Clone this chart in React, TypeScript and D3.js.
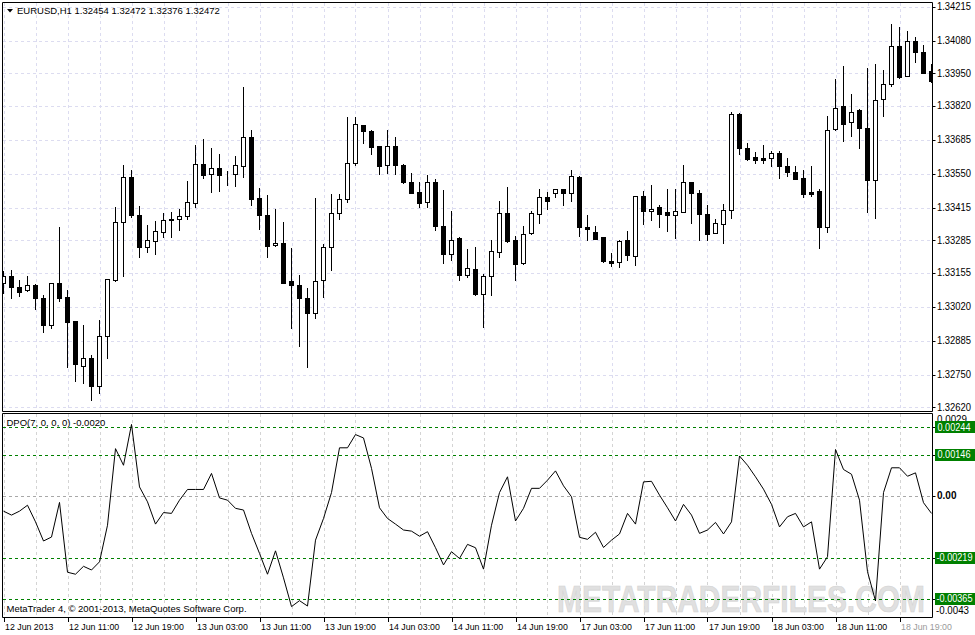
import React from 'react';
import * as d3 from 'd3';

// ---------- data ----------
const openP = [1.33115,1.33141,1.33099,1.33087,1.33107,1.33055,1.32946,1.33115,1.33059,1.32964,1.32783,1.32816,1.32703,1.32902,1.33128,1.33357,1.33536,1.33386,1.33260,1.33284,1.33316,1.33370,1.33369,1.33380,1.33433,1.33588,1.33548,1.33572,1.33550,1.33548,1.33581,1.33696,1.33453,1.33386,1.33266,1.33274,1.33124,1.33107,1.33055,1.32995,1.33128,1.33258,1.33393,1.33449,1.33592,1.33745,1.33721,1.33661,1.33583,1.33661,1.33585,1.33519,1.33477,1.33437,1.33516,1.33342,1.33230,1.33296,1.33148,1.33171,1.33072,1.33141,1.33240,1.33393,1.33287,1.33194,1.33313,1.33389,1.33457,1.33473,1.33489,1.33473,1.33536,1.33337,1.33317,1.33298,1.33203,1.33198,1.33287,1.33224,1.33462,1.33402,1.33417,1.33397,1.33384,1.33399,1.33516,1.33473,1.33389,1.33313,1.33349,1.33406,1.33788,1.33652,1.33618,1.33612,1.33612,1.33632,1.33581,1.33556,1.33532,1.33477,1.33482,1.33337,1.33727,1.33820,1.33754,1.33804,1.33734,1.33526,1.33847,1.33908,1.34059,1.33941,1.34079,1.34034,1.33959];
const highP = [1.33161,1.33167,1.33128,1.33144,1.33112,1.33068,1.33115,1.33337,1.33088,1.32964,1.32949,1.32829,1.32968,1.33130,1.33419,1.33585,1.33563,1.33422,1.33346,1.33362,1.33393,1.33397,1.33410,1.33522,1.33665,1.33689,1.33654,1.33629,1.33559,1.33621,1.33895,1.33725,1.33493,1.33466,1.33410,1.33357,1.33254,1.33148,1.33095,1.33453,1.33271,1.33469,1.33469,1.33775,1.33775,1.33745,1.33725,1.33661,1.33725,1.33698,1.33588,1.33552,1.33519,1.33545,1.33530,1.33486,1.33402,1.33300,1.33251,1.33260,1.33151,1.33287,1.33442,1.33496,1.33303,1.33342,1.33402,1.33490,1.33477,1.33489,1.33489,1.33563,1.33539,1.33384,1.33342,1.33298,1.33236,1.33287,1.33323,1.33462,1.33482,1.33506,1.33426,1.33489,1.33489,1.33583,1.33519,1.33486,1.33426,1.33370,1.33429,1.33797,1.33791,1.33672,1.33638,1.33665,1.33641,1.33641,1.33614,1.33579,1.33563,1.33579,1.33490,1.33780,1.33928,1.33979,1.33867,1.33807,1.33970,1.33987,1.33963,1.34147,1.34133,1.34119,1.34096,1.34063,1.33987];
const lowP = [1.33076,1.33057,1.33065,1.33085,1.33012,1.32919,1.32935,1.33045,1.32779,1.32726,1.32717,1.32650,1.32675,1.32818,1.33121,1.33144,1.33377,1.33218,1.33240,1.33230,1.33300,1.33300,1.33327,1.33369,1.33417,1.33534,1.33479,1.33483,1.33506,1.33503,1.33535,1.33426,1.33331,1.33220,1.33264,1.33115,1.32935,1.32866,1.32779,1.32975,1.33061,1.33167,1.33369,1.33439,1.33583,1.33674,1.33629,1.33550,1.33552,1.33550,1.33515,1.33475,1.33419,1.33417,1.33324,1.33196,1.33207,1.33128,1.33138,1.33068,1.32940,1.33068,1.33218,1.33280,1.33128,1.33190,1.33309,1.33353,1.33409,1.33459,1.33426,1.33443,1.33303,1.33287,1.33290,1.33200,1.33181,1.33177,1.33207,1.33185,1.33349,1.33364,1.33336,1.33320,1.33296,1.33397,1.33353,1.33287,1.33287,1.33313,1.33274,1.33373,1.33628,1.33605,1.33592,1.33592,1.33579,1.33532,1.33539,1.33530,1.33459,1.33463,1.33254,1.33316,1.33725,1.33681,1.33702,1.33654,1.33399,1.33373,1.33778,1.33900,1.33930,1.33941,1.33996,1.33950,1.33916];
const closeP = [1.33141,1.33099,1.33081,1.33107,1.33057,1.32946,1.33115,1.33057,1.32959,1.32792,1.32816,1.32703,1.32905,1.33130,1.33357,1.33536,1.33386,1.33260,1.33287,1.33320,1.33366,1.33364,1.33382,1.33437,1.33588,1.33543,1.33572,1.33543,1.33549,1.33585,1.33696,1.33450,1.33384,1.33264,1.33276,1.33115,1.33105,1.33055,1.32995,1.33122,1.33258,1.33393,1.33449,1.33592,1.33747,1.33722,1.33658,1.33579,1.33661,1.33585,1.33519,1.33475,1.33435,1.33516,1.33340,1.33230,1.33287,1.33148,1.33174,1.33072,1.33144,1.33243,1.33393,1.33283,1.33190,1.33309,1.33393,1.33457,1.33443,1.33489,1.33473,1.33542,1.33336,1.33331,1.33291,1.33203,1.33196,1.33283,1.33227,1.33462,1.33403,1.33410,1.33390,1.33384,1.33402,1.33516,1.33473,1.33389,1.33309,1.33353,1.33406,1.33788,1.33652,1.33608,1.33605,1.33606,1.33632,1.33579,1.33555,1.33530,1.33470,1.33470,1.33336,1.33725,1.33811,1.33749,1.33797,1.33734,1.33526,1.33844,1.33906,1.34059,1.33937,1.34079,1.34034,1.33953,1.33921];
const dpoValues = [-0.00054,-0.00068,-0.00054,-0.00033,-0.00092,-0.00160,-0.00146,-0.00023,-0.00271,-0.00278,-0.00250,-0.00263,-0.00234,-0.00104,0.00168,0.00109,0.00254,0.00032,-0.00021,-0.00100,-0.00059,-0.00062,-0.00015,0.00023,0.00023,0.00023,0.00080,-0.00007,-0.00015,-0.00044,-0.00050,-0.00133,-0.00204,-0.00278,-0.00195,-0.00291,-0.00393,-0.00372,-0.00391,-0.00157,-0.00080,0.00012,0.00171,0.00171,0.00218,0.00206,0.00098,-0.00042,-0.00080,-0.00100,-0.00121,-0.00125,-0.00143,-0.00127,-0.00184,-0.00245,-0.00198,-0.00222,-0.00172,-0.00184,-0.00260,-0.00104,0.00012,0.00068,-0.00089,-0.00044,0.00027,0.00027,0.00056,0.00089,0.00036,-0.00003,-0.00147,-0.00154,-0.00129,-0.00183,-0.00157,-0.00135,-0.00062,-0.00100,0.00050,0.00052,0.00003,-0.00042,-0.00089,-0.00030,-0.00068,-0.00133,-0.00121,-0.00094,-0.00135,-0.00092,0.00142,0.00109,0.00068,0.00024,-0.00030,-0.00110,-0.00074,-0.00062,-0.00110,-0.00092,-0.00260,-0.00216,0.00165,0.00094,0.00077,-0.00015,-0.00269,-0.00373,0.00012,0.00100,0.00100,0.00070,0.00082,-0.00024,-0.00062];

const priceTicks = ['1.34215','1.34080','1.33950','1.33820','1.33685','1.33550','1.33415','1.33285','1.33155','1.33020','1.32885','1.32750','1.32620'];
const dpoLevels = ['0.00244','0.00146','-0.00219','-0.00365'];
const dpoScaleLabels = ['0.0029','0.00','-0.0043'];
const timeLabels = ['12 Jun 2013','12 Jun 11:00','12 Jun 19:00','13 Jun 03:00','13 Jun 11:00','13 Jun 19:00','14 Jun 03:00','14 Jun 11:00','14 Jun 19:00','17 Jun 03:00','17 Jun 11:00','17 Jun 19:00','18 Jun 03:00','18 Jun 11:00','18 Jun 19:00'];

const FONT = "'Liberation Sans', Arial, sans-serif";

export default function App() {
  const n = openP.length;
  const x = d3.scaleLinear().domain([0, n - 1]).range([3.5, 3.5 + 8 * (n - 1)]);
  const yP = d3.scaleLinear().domain([1.3262, 1.34215]).range([407.3, 6.7]);
  const yD = d3.scaleLinear().domain([-0.0043, 0.0029]).range([617, 414.3]);
  const R = 932.5;
  const crisp = (v: number) => Math.round(v) + 0.5;

  const dpoLine = d3.line<number>().x((_, i) => x(i)).y((d) => yD(d))(dpoValues) || '';
  const gridX = d3.range(0, n, 4);
  const labelIdx = d3.range(0, n, 8).slice(0, timeLabels.length);

  return (
    <svg width={975} height={635} style={{ position: 'fixed', left: 0, top: 0, background: '#fff' }} fontFamily={FONT}>
      <defs>
        <clipPath id="topClip"><rect x={3} y={3} width={929} height={408} /></clipPath>
        <clipPath id="botClip"><rect x={3} y={414} width={929} height={203} /></clipPath>
        <clipPath id="axisBot"><rect x={933} y={415} width={42} height={220} /></clipPath>
      </defs>
      <rect x={0} y={0} width={975} height={635} fill="#fff" />

      {/* top grid */}
      <g clipPath="url(#topClip)" stroke="#dcdcf0" strokeDasharray="3,3" strokeWidth={1}>
        {gridX.map((i) => <line key={'gx' + i} x1={crisp(x(i))} x2={crisp(x(i))} y1={3} y2={411} />)}
        {priceTicks.map((t) => <line key={'gy' + t} x1={3} x2={R} y1={crisp(yP(+t))} y2={crisp(yP(+t))} />)}
      </g>

      {/* candles */}
      <g clipPath="url(#topClip)">
        {openP.map((o, i) => {
          const c = closeP[i];
          const cx = x(i);
          const top = Math.round(yP(Math.max(o, c)));
          const bot = Math.round(yP(Math.min(o, c)));
          const bull = c >= o;
          return (
            <g key={'c' + i}>
              <line x1={cx} x2={cx} y1={Math.round(yP(highP[i]))} y2={Math.round(yP(lowP[i])) + 1} stroke="#000" strokeWidth={1} />
              <rect x={cx - 2} y={top + 0.5} width={4} height={Math.max(0, bot - top)} fill={bull ? '#fff' : '#000'} stroke="#000" strokeWidth={1} />
            </g>
          );
        })}
      </g>

      {/* bottom grid */}
      <g clipPath="url(#botClip)">
        {gridX.map((i) => <line key={'bx' + i} x1={crisp(x(i))} x2={crisp(x(i))} y1={414} y2={617} stroke="#d4d4d4" strokeDasharray="3,3" />)}
        <text x={557} y={612} fontSize={36} fontWeight="bold" textLength={368} lengthAdjust="spacingAndGlyphs" fill="#e0e0e0" stroke="#d2d2d2" strokeWidth={0.6}>METATRADERFILES.COM</text>
        <line x1={3} x2={R} y1={crisp(yD(0))} y2={crisp(yD(0))} stroke="#a8a8a8" strokeDasharray="3,3" />
        {dpoLevels.map((l) => <line key={'lv' + l} x1={3} x2={R} y1={crisp(yD(+l))} y2={crisp(yD(+l))} stroke="#008000" strokeDasharray="3,3" />)}
        <path d={dpoLine} fill="none" stroke="#000" strokeWidth={1} />
      </g>

      {/* frames */}
      <g stroke="#000" strokeWidth={1} fill="none">
        <path d={`M2.5,411.5 V2.5 H${R} V411.5 H2.5`} />
        <path d={`M2.5,617.5 V413.5 H${R} V617.5 H2.5`} />
      </g>

      {/* price axis */}
      <g fontSize={10} fill="#000">
        {priceTicks.map((t) => {
          const yy = yP(+t);
          return (
            <g key={'pt' + t}>
              <line x1={R} x2={R + 3} y1={crisp(yy)} y2={crisp(yy)} stroke="#000" />
              <text x={937} y={yy} dy="0.35em" textLength={34} lengthAdjust="spacingAndGlyphs">{t}</text>
            </g>
          );
        })}
      </g>

      {/* dpo axis */}
      <g fontSize={10} clipPath="url(#axisBot)">
        <text x={937} y={yD(0.0029) + 5} dy="0.35em" fill="#000" textLength={30} lengthAdjust="spacingAndGlyphs">{dpoScaleLabels[0]}</text>
        <line x1={R} x2={R + 3} y1={crisp(yD(0))} y2={crisp(yD(0))} stroke="#000" />
        <text x={937} y={yD(0)} dy="0.35em" fill="#000" fontWeight="bold">{dpoScaleLabels[1]}</text>
        <text x={936} y={yD(-0.0043) - 7} dy="0.35em" fill="#000" textLength={33} lengthAdjust="spacingAndGlyphs">{dpoScaleLabels[2]}</text>
        {dpoLevels.map((l) => {
          const yy = yD(+l);
          const neg = l.startsWith('-');
          return (
            <g key={'ll' + l}>
              <line x1={R} x2={R + 3} y1={crisp(yy)} y2={crisp(yy)} stroke="#000" />
              <rect x={935} y={Math.round(yy) - 6} width={40} height={12} fill="#008000" />
              <text x={neg ? 936.5 : 937.5} y={yy} dy="0.35em" fill="#fff" textLength={neg ? 36 : 33} lengthAdjust="spacingAndGlyphs">{l}</text>
            </g>
          );
        })}
      </g>

      {/* time axis */}
      <g fontSize={8.8} fill="#000">
        {labelIdx.map((i, k) => (
          <g key={'tl' + i}>
            <line x1={crisp(x(i))} x2={crisp(x(i))} y1={617} y2={622} stroke="#000" />
            <text x={x(i) + 1.5} y={630} fill={k === timeLabels.length - 1 ? '#9a9a9a' : '#000'}>{timeLabels[k]}</text>
          </g>
        ))}
      </g>

      {/* headers */}
      <path d="M7,9 L13,9 L10,12.5 Z" fill="#000" />
      <text x={17} y={14} fontSize={9.5} fill="#000">EURUSD,H1  1.32454 1.32472 1.32376 1.32472</text>
      <text x={6.5} y={426} fontSize={9.5} fill="#000">DPO(7, 0, 0, 0) -0.0020</text>
      <text x={6.5} y={612} fontSize={9.5} fill="#000">MetaTrader 4, © 2001-2013, MetaQuotes Software Corp.</text>
    </svg>
  );
}
